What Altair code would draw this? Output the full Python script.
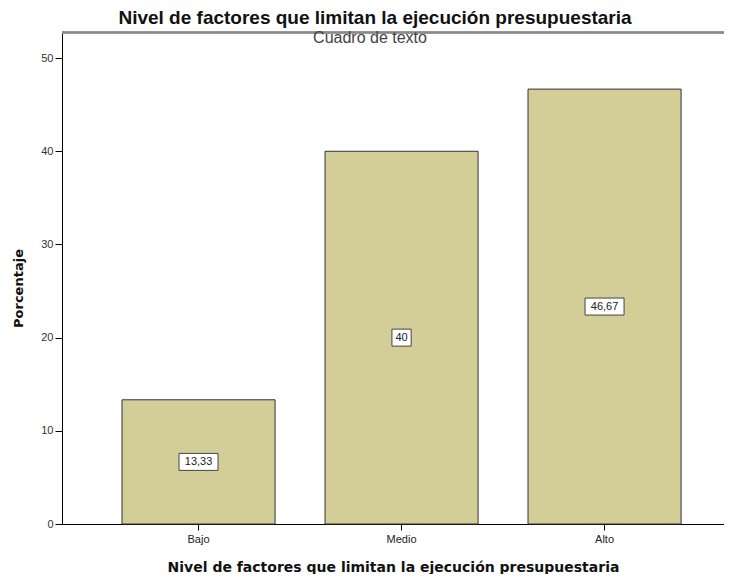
import altair as alt
import pandas as pd

categories = ["Bajo", "Medio", "Alto"]
values = [13.33, 40.0, 46.67]

title_text = "Nivel de factores que limitan la ejecución presupuestaria"
x_title = "Nivel de factores que limitan la ejecución presupuestaria"
y_title = "Porcentaje"
note_text = "Cuadro de texto"
y_ticks = [0, 10, 20, 30, 40, 50]

df = pd.DataFrame({"cat": categories, "v": values})

FONT = "Liberation Sans"
TFONT = "DejaVu Sans"
W, H = 662, 492

x_enc = alt.X(
    "cat:N",
    sort=categories,
    scale=alt.Scale(paddingInner=0.246, paddingOuter=0.2535, align=0.583),
    axis=alt.Axis(
        title=x_title, labelAngle=0, labelFont=FONT, labelFontSize=11,
        labelColor="#222", tickColor="#000", tickSize=6, domainColor="#000",
        labelPadding=3, titleFont=TFONT, titleFontSize=14, titleFontWeight="bold",
        titleColor="#111", titleX=W / 2, titleY=47.5, titleAlign="center",
        titleBaseline="alphabetic",
    ),
)

base = alt.Chart(df)

bars = base.mark_bar(color="#D3CE97", stroke="#333", strokeWidth=1).encode(
    x=x_enc,
    y=alt.Y(
        "v:Q",
        scale=alt.Scale(domain=[0, 52.8], nice=False),
        axis=alt.Axis(
            title=y_title, values=y_ticks, grid=False, labelFont=FONT,
            labelFontSize=11, labelColor="#333", tickColor="#000", tickSize=7,
            domainColor="#000", labelPadding=2, titleFont=TFONT, titleFontSize=13,
            titleFontWeight="bold", titleColor="#111", titleAngle=270,
            titleX=-44, titleY=256, titleAlign="center", titleBaseline="middle",
        ),
    ),
)

lab = base.transform_calculate(
    mid="datum.v / 2",
    mid2="datum.v / 2",
    txt="replace(format(datum.v, '.2~f'), '.', ',')",
    w="length(replace(format(datum.v, '.2~f'), '.', ',')) * 6.6 + 6",
)

boxes = lab.mark_bar(color="white", stroke="#444", strokeWidth=1, yOffset=-8.5, y2Offset=8.5).encode(
    x=alt.X("cat:N", sort=categories),
    y="mid:Q",
    y2="mid2:Q",
    size=alt.Size("w:Q", scale=None, legend=None),
)

texts = lab.mark_text(font=FONT, fontSize=11, color="#222", baseline="middle", align="center", dy=0.5).encode(
    x=alt.X("cat:N", sort=categories),
    y="mid:Q",
    text="txt:N",
)

top_line = alt.Chart(df).mark_rule(color="#8a8a8a", strokeWidth=2).encode(
    x=alt.value(0), x2=alt.value(W), y=alt.value(0.5)
)

note = alt.Chart(pd.DataFrame({"t": [note_text]})).mark_text(
    font=FONT, fontSize=16, color="#444", align="center", baseline="middle"
).encode(x=alt.value(308), y=alt.value(6), text="t:N")

chart = (
    alt.layer(bars, boxes, texts, top_line, note)
    .properties(
        width=W,
        height=H,
        autosize=alt.AutoSizeParams(type="none"),
        padding={"left": 54, "top": 24, "right": 0, "bottom": 50},
        title=alt.TitleParams(
            title_text, font=FONT, fontSize=19, fontWeight="bold", color="#111",
            anchor="middle", dx=-18, offset=2,
        ),
    )
    .configure_view(fill="#F0F0F0", stroke=None)
    .configure(background="white")
)

chart.save("out.html", embed_options={"renderer": "svg", "actions": False})
